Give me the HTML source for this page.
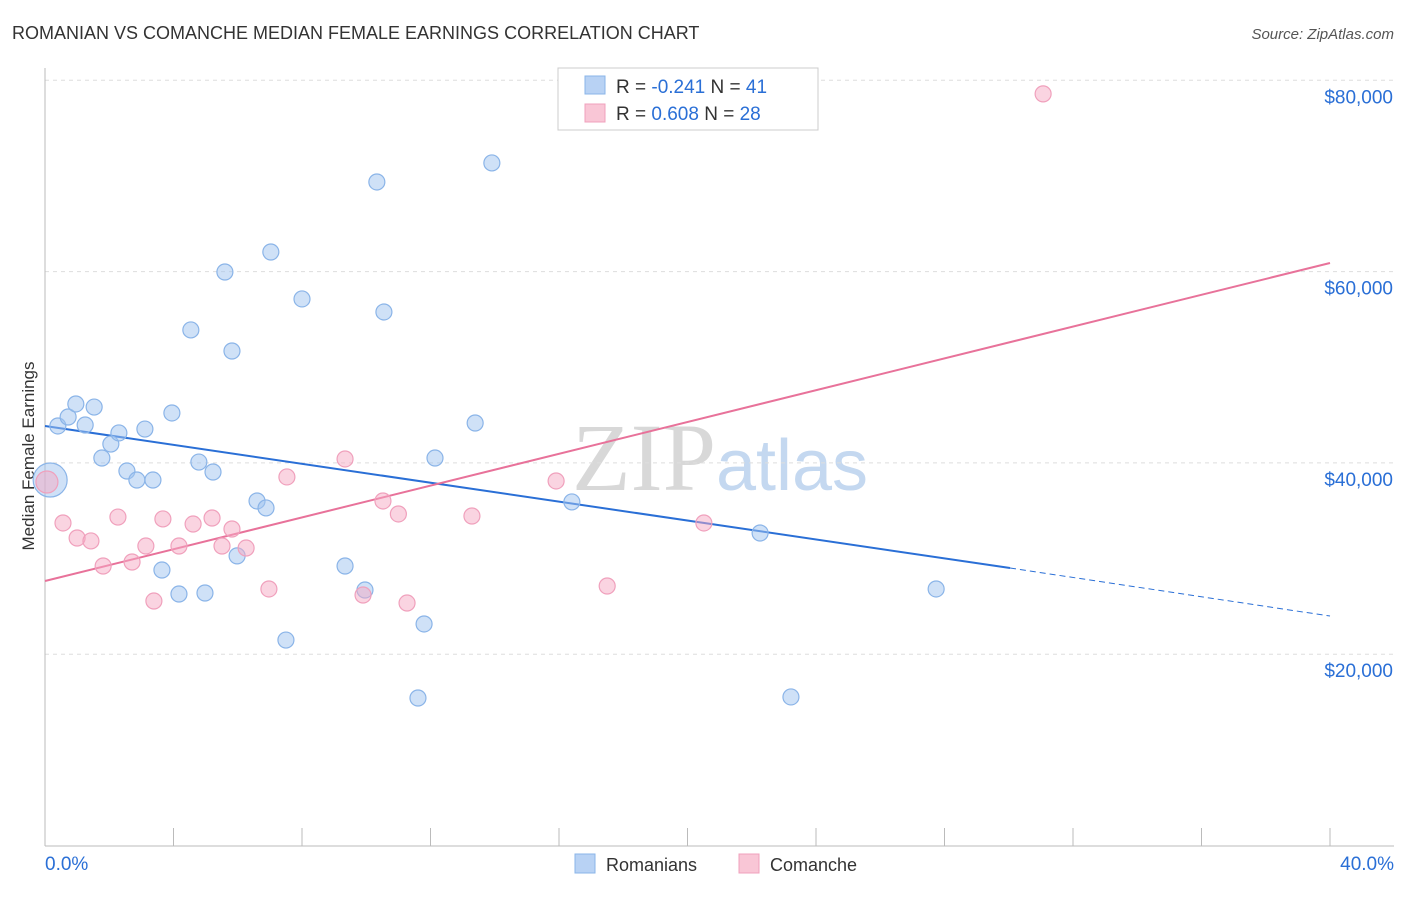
<!DOCTYPE html>
<html><head><meta charset="utf-8">
<style>
body{margin:0;background:#fff;font-family:"Liberation Sans",sans-serif;}
svg text{font-family:"Liberation Sans",sans-serif;}
</style></head>
<body>
<svg id="chart" width="1406" height="892" viewBox="0 0 1406 892">
<text x="12" y="39" font-size="18" fill="#333">ROMANIAN VS COMANCHE MEDIAN FEMALE EARNINGS CORRELATION CHART</text>
<text x="1394" y="39" font-size="15" fill="#555" text-anchor="end" font-style="italic">Source: ZipAtlas.com</text>
<text x="720" y="490" font-size="96" text-anchor="middle"><tspan fill="#d8d8d8" font-family="Liberation Serif">ZIP</tspan><tspan fill="#c4d8f0" font-size="72">atlas</tspan></text>
<text transform="translate(34,456) rotate(-90)" font-size="17" fill="#333" text-anchor="middle">Median Female Earnings</text>
<g id="grid"></g><g id="axes"></g><g id="trends"></g><g id="pts"></g>
<g>
<rect x="558" y="68" width="260" height="62" fill="#fff" stroke="#ccc"/>
<rect x="585" y="76" width="20" height="18" fill="#b8d2f4" stroke="#8ab4e8"/>
<rect x="585" y="104" width="20" height="18" fill="#f9c6d6" stroke="#f0a0bc"/>
<text x="616" y="93" font-size="19" fill="#333">R = <tspan fill="#2a6fd6">-0.241</tspan>   N = <tspan fill="#2a6fd6">41</tspan></text>
<text x="616" y="120" font-size="19" fill="#333">R = <tspan fill="#2a6fd6"> 0.608</tspan>   N = <tspan fill="#2a6fd6">28</tspan></text>
</g>
<g>
<rect x="575" y="854" width="20" height="19" fill="#b8d2f4" stroke="#8ab4e8"/>
<text x="606" y="871" font-size="18" fill="#333">Romanians</text>
<rect x="739" y="854" width="20" height="19" fill="#f9c6d6" stroke="#f0a0bc"/>
<text x="770" y="871" font-size="18" fill="#333">Comanche</text>
</g>
</svg>
<script>
const blueX=[0.16,0.40,0.72,0.96,1.25,1.53,1.77,2.05,2.30,2.55,2.86,3.11,3.36,3.64,3.95,4.17,4.54,4.79,4.98,5.23,5.60,5.82,5.98,6.60,6.88,7.03,7.50,8.00,9.34,9.96,10.33,10.55,11.80,11.61,12.14,13.39,13.91,16.40,22.26,23.22,27.74];
const blueY=[38210,43860,44800,46160,43960,45840,40510,41970,43130,39150,38210,43540,38210,28800,45220,26290,53900,40090,26400,39050,59960,51700,30280,36020,35290,62050,21480,57140,29220,26710,69370,55780,23160,15420,40510,44170,71360,35920,32670,15530,26820];
const pinkX=[0.06,0.56,1.00,1.43,1.81,2.27,2.71,3.14,3.39,3.67,4.17,4.61,5.20,5.51,5.82,6.26,6.97,7.53,9.34,9.90,10.52,11.00,11.27,13.29,15.91,17.50,20.51,31.07];
const pinkY=[38000,33720,32150,31840,29220,34340,29640,31310,25560,34140,31310,33610,34240,31310,33090,31100,26820,38530,40410,26190,36020,34660,25350,34450,38110,27130,33720,78580];
const blueTrendX=[0,30.04,40];
const blueTrendY=[43860,29010,23990];
const pinkTrendX=[0,40];
const pinkTrendY=[27650,60900];
const yTicks=[20000,40000,60000,80000];
const yTickLabels=["$20,000","$40,000","$60,000","$80,000"];
const xTicks=[0,4,8,12,16,20,24,28,32,36,40];

const NS="http://www.w3.org/2000/svg";
const sx=v=>45+v/40*1285;
const sy=v=>845.5-v/20000*191.3;
function mk(parent,tag,attrs){const e=document.createElementNS(NS,tag);for(const k in attrs)e.setAttribute(k,attrs[k]);document.getElementById(parent).appendChild(e);return e;}

yTicks.forEach((t,i)=>{
  const g=mk('grid','line',{x1:45,x2:1394,y1:sy(t),y2:sy(t),stroke:'#ddd','stroke-dasharray':'4,4'});
  
  
  const l=mk('grid','text',{x:1393,y:sy(t)+23,'font-size':19,fill:'#2a6fd6','text-anchor':'end'});
  l.textContent=yTickLabels[i];
  
  
});
const ya=mk('axes','line',{x1:45,x2:45,y1:68,y2:846,stroke:'#bbb'});


const xa=mk('axes','line',{x1:45,x2:1394,y1:846,y2:846,stroke:'#bbb'});


xTicks.forEach(t=>{
  const k=mk('axes','line',{x1:sx(t),x2:sx(t),y1:828,y2:846,stroke:'#bbb'});
  
  
});
[["0.0%",45,'start'],["40.0%",1394,'end']].forEach(a=>{
  const l=mk('axes','text',{x:a[1],y:870,'font-size':19,fill:'#2a6fd6','text-anchor':a[2]});
  l.textContent=a[0];
  
  
});

const bt1=mk('trends','line',{x1:sx(blueTrendX[0]),y1:sy(blueTrendY[0]),x2:sx(blueTrendX[1]),y2:sy(blueTrendY[1]),stroke:'#2a6fd6','stroke-width':2});


const bt2=mk('trends','line',{x1:sx(blueTrendX[1]),y1:sy(blueTrendY[1]),x2:sx(blueTrendX[2]),y2:sy(blueTrendY[2]),stroke:'#2a6fd6','stroke-width':1,'stroke-dasharray':'6,4'});


const pt=mk('trends','line',{x1:sx(pinkTrendX[0]),y1:sy(pinkTrendY[0]),x2:sx(pinkTrendX[1]),y2:sy(pinkTrendY[1]),stroke:'#e8729a','stroke-width':2});



blueX.forEach((x,i)=>{
  const c=mk('pts','circle',{cx:sx(x),cy:sy(blueY[i]),r:i===0?17:8,fill:'rgba(160,195,240,0.5)',stroke:'#8ab4e8','stroke-width':1.2});
  
  
});
pinkX.forEach((x,i)=>{
  const c=mk('pts','circle',{cx:sx(x),cy:sy(pinkY[i]),r:i===0?11:8,fill:'rgba(245,170,195,0.5)',stroke:'#f0a0bc','stroke-width':1.2});
  
  
});
</script>
</body></html>
